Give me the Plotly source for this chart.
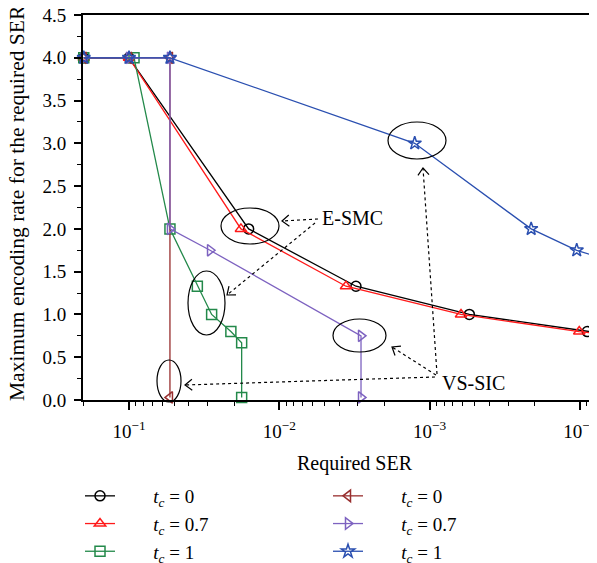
import numpy as np
import plotly.graph_objects as go

# ---------------- data ----------------
ser_esmc_t0 = [0.2, 0.1, 0.016, 0.00309, 5.44e-4, 8.93e-5, 5e-5]
rate_esmc_t0 = [4.0, 4.0, 2.0, 1.33, 1.0, 0.8, 0.74]

ser_esmc_t07 = [0.2, 0.1, 0.018, 0.0036, 6.18e-4, 1.01e-4, 5e-5]
rate_esmc_t07 = [4.0, 4.0, 2.0, 1.33, 1.0, 0.8, 0.74]

ser_esmc_t1 = [0.2, 0.0926, 0.0534, 0.0351, 0.0282, 0.0210, 0.0178, 0.0178]
rate_esmc_t1 = [4.0, 4.0, 2.0, 1.33, 1.0, 0.8, 0.67, 0.03]

ser_vs_t0 = [0.2, 0.1, 0.0534, 0.0534]
rate_vs_t0 = [4.0, 4.0, 4.0, 0.03]

ser_vs_t07 = [0.2, 0.1, 0.0534, 0.0534, 0.0289, 0.00286, 0.00286]
rate_vs_t07 = [4.0, 4.0, 4.0, 2.0, 1.75, 0.75, 0.03]

ser_vs_t1 = [0.2, 0.1, 0.0534, 1.256e-3, 2.11e-4, 1.05e-4, 5e-5]
rate_vs_t1 = [4.0, 4.0, 4.0, 3.0, 2.0, 1.75, 1.57]

x_tick_vals = [1e-1, 1e-2, 1e-3, 1e-4]
x_tick_text = ["10<sup>\u22121</sup>", "10<sup>\u22122</sup>", "10<sup>\u22123</sup>", "10<sup>\u22124</sup>"]
y_tick_vals = [0.0, 0.5, 1.0, 1.5, 2.0, 2.5, 3.0, 3.5, 4.0, 4.5]

# ---------------- layout geometry (viewport pixels; page body adds 8px) ----------------
OFF = 8
VW, VH = 597, 563
PL, PR, PT, PB = 83, 597, 15, 400          # plot area in viewport pixels
W, H = VW - OFF, VH - OFF
ML, MT = PL - OFF, PT - OFF
MR = 0
MB = H - (PB - OFF)
PW, PH = PR - PL, PB - PT

def px(x):
    return (x - PL) / PW

def py(y):
    return (PB - y) / PH

SERIF = "Liberation Serif"
PAD = "\u00a0" * 7

series = [
    ("<i>t<sub>c</sub></i> = 0", ser_esmc_t0, rate_esmc_t0, "#000000", "circle-open", 1),
    ("<i>t<sub>c</sub></i> = 0.7", ser_esmc_t07, rate_esmc_t07, "#FF1A1A", "triangle-up-open", 3),
    ("<i>t<sub>c</sub></i> = 1", ser_esmc_t1, rate_esmc_t1, "#23894A", "square-open", 5),
    ("<i>t<sub>c</sub></i> = 0", ser_vs_t0, rate_vs_t0, "#982E2E", "triangle-left-open", 2),
    ("<i>t<sub>c</sub></i> = 0.7", ser_vs_t07, rate_vs_t07, "#7D62C0", "triangle-right-open", 4),
    ("<i>t<sub>c</sub></i> = 1", ser_vs_t1, rate_vs_t1, "#2A4FB0", "star-open", 6),
]

fig = go.Figure()
for name, xs, ys, col, sym, rank in series:
    fig.add_trace(go.Scatter(
        x=xs, y=ys, mode="lines+markers", name=PAD + name,
        line=dict(color=col, width=1.3),
        marker=dict(symbol=sym, size=10, color=col, line=dict(width=1.5, color=col)),
        legendrank=rank, cliponaxis=False,
    ))

minor_vals = []
for k in range(-5, 0):
    for m in range(2, 10):
        minor_vals.append(m * 10.0 ** k)

x_left = -1 + (129 - PL) / 150.3
x_right = -1 - (PR - 129) / 150.3

fig.update_xaxes(
    type="log", range=[x_left, x_right],
    tickmode="array", tickvals=x_tick_vals, ticktext=x_tick_text,
    ticks="outside", ticklen=8, tickwidth=1.5, tickcolor="black",
    minor=dict(tickmode="array", tickvals=minor_vals, ticks="outside", ticklen=4, tickwidth=1.2, tickcolor="black"),
    showline=True, linecolor="black", linewidth=2, mirror=True,
    showgrid=False, zeroline=False, ticklabelstandoff=5, ticklabeloverflow="allow",
    tickfont=dict(family=SERIF, size=19, color="black"),
)
fig.update_yaxes(
    range=[0, 4.5], tickmode="array", tickvals=y_tick_vals, tickformat=".1f",
    ticks="outside", ticklen=7, tickwidth=1.5, tickcolor="black",
    minor=dict(dtick=0.25, ticks="outside", ticklen=4, tickwidth=1.2, tickcolor="black"),
    showline=True, linecolor="black", linewidth=2, mirror=True,
    showgrid=False, zeroline=False, ticklabelstandoff=4, ticklabeloverflow="allow",
    tickfont=dict(family=SERIF, size=19, color="black"),
)

shapes = []
ellipses = [(250, 226, 29, 18), (206.5, 303, 18.5, 32), (359.5, 335.5, 26.5, 16.5),
            (169, 381, 12, 21), (417, 140.5, 29, 18.5)]
for cx, cy, rx, ry in ellipses:
    shapes.append(dict(type="circle", xref="paper", yref="paper",
                       x0=px(cx - rx), x1=px(cx + rx), y0=py(cy + ry), y1=py(cy - ry),
                       line=dict(color="black", width=1.2), layer="above"))

arrows = [((318, 219), (282, 221)), ((315, 223), (227, 295)),
          ((437, 374), (423, 168)), ((436, 375), (392, 347)), ((435, 377), (185, 385))]
for (sx, sy), (tx, ty) in arrows:
    shapes.append(dict(type="line", xref="paper", yref="paper",
                       x0=px(sx), y0=py(sy), x1=px(tx), y1=py(ty),
                       line=dict(color="black", width=1.2, dash="dot")))
    ang = np.arctan2(sy - ty, sx - tx)
    L, a = 9, np.radians(38)
    p1 = (tx + L * np.cos(ang + a), ty + L * np.sin(ang + a))
    p2 = (tx + L * np.cos(ang - a), ty + L * np.sin(ang - a))
    path = "M{:.5f},{:.5f} L{:.5f},{:.5f} L{:.5f},{:.5f}".format(
        px(p1[0]), py(p1[1]), px(tx), py(ty), px(p2[0]), py(p2[1]))
    shapes.append(dict(type="path", xref="paper", yref="paper", path=path,
                       line=dict(color="black", width=1.2)))

annotations = [
    dict(text="E-SMC", x=px(320), y=py(218), xref="paper", yref="paper", xanchor="left", yanchor="middle",
         showarrow=False, font=dict(family=SERIF, size=20, color="black")),
    dict(text="VS-SIC", x=px(440), y=py(383), xref="paper", yref="paper", xanchor="left", yanchor="middle",
         showarrow=False, font=dict(family=SERIF, size=20, color="black")),
    dict(text="Required SER", x=px(355), y=py(463), xref="paper", yref="paper", xanchor="center",
         yanchor="middle", showarrow=False, font=dict(family=SERIF, size=20, color="black")),
    dict(text="Maximum encoding rate for the required SER", x=px(17), y=py(203), xref="paper", yref="paper",
         xanchor="center", yanchor="middle", textangle=-90, showarrow=False,
         font=dict(family=SERIF, size=21.5, color="black")),
]

fig.update_layout(
    width=W, height=H, margin=dict(l=ML, r=MR, t=MT, b=MB, autoexpand=False),
    paper_bgcolor="white", plot_bgcolor="white",
    shapes=shapes, annotations=annotations,
    showlegend=True,
    legend=dict(orientation="h", x=px(80), xanchor="left", y=py(477), yanchor="top",
                entrywidth=203, entrywidthmode="pixels", tracegroupgap=0,
                font=dict(family=SERIF, size=19, color="black"), bgcolor="rgba(0,0,0,0)"),
)

fig.write_html("out.html")
